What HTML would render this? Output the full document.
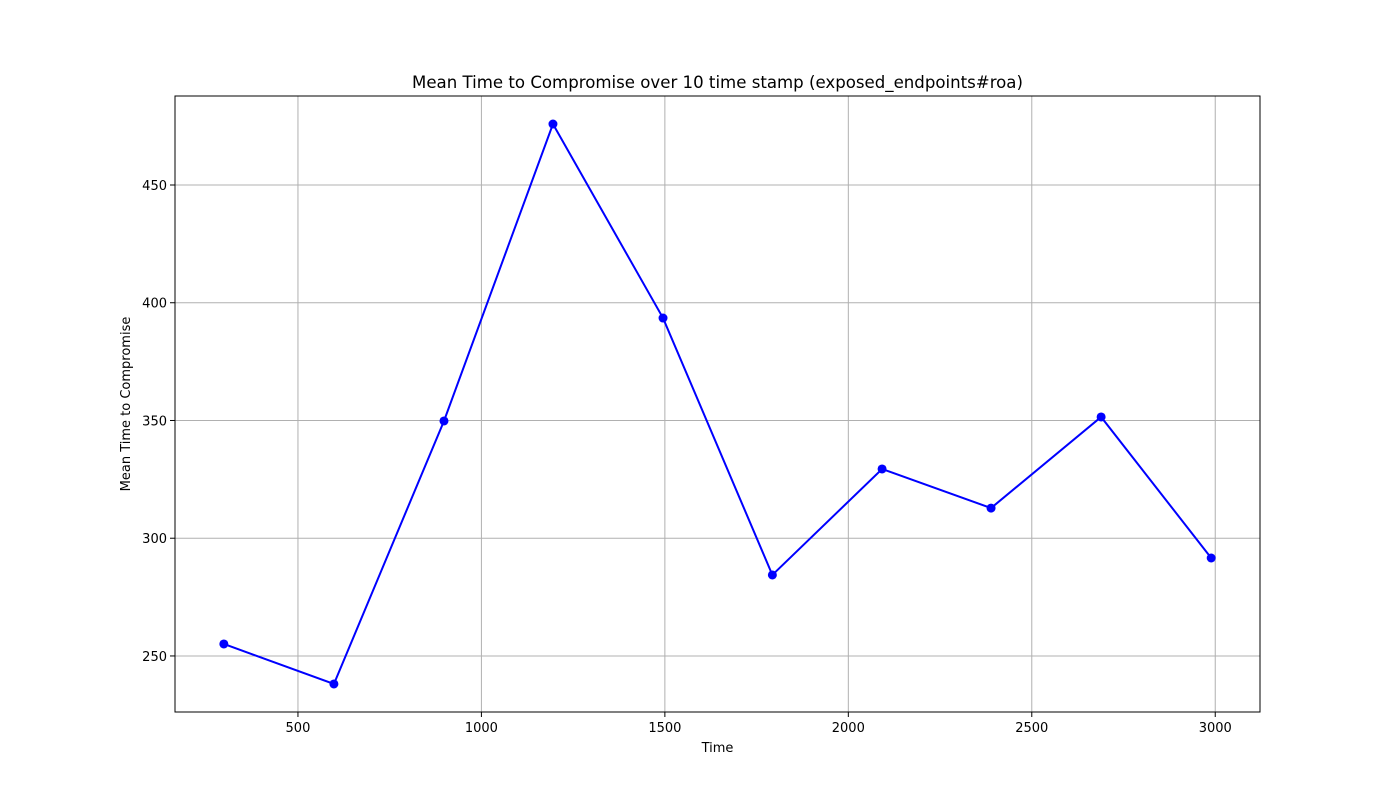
<!DOCTYPE html>
<html><head><meta charset="utf-8">
<style>
html,body{margin:0;padding:0;background:#fff;}
svg text{font-family:"DejaVu Sans","Liberation Sans",sans-serif;}
</style></head>
<body>
<svg id="chart" width="1400" height="800" xmlns="http://www.w3.org/2000/svg">
<rect width="1400" height="800" fill="#fff"/>
<g id="grid"></g>
<g id="ticks"></g>
<g id="series"></g>
<rect x="175" y="96" width="1085" height="616" fill="none" stroke="#000" stroke-width="1"/>
<text x="717.5" y="88" font-size="16.6" text-anchor="middle">Mean Time to Compromise over 10 time stamp (exposed_endpoints#roa)</text>
<text x="717.5" y="752" font-size="13" text-anchor="middle">Time</text>
<text x="130" y="404" font-size="13" text-anchor="middle" transform="rotate(-90 130 404)">Mean Time to Compromise</text>
</svg>
<script>
const times = [298, 598, 898, 1195, 1495, 1793, 2092, 2389, 2689, 2989];
const mttc = [255.1, 238.1, 349.8, 475.9, 393.5, 284.4, 329.4, 312.8, 351.5, 291.6];
const xTicks = [500, 1000, 1500, 2000, 2500, 3000];
const yTicks = [250, 300, 350, 400, 450];

const L=175,R=1260,T=96,B=712;
const xMin=164.9,xMax=3122,yMin=226.2,yMax=487.8;
const sx=v=>L+(v-xMin)/(xMax-xMin)*(R-L);
const sy=v=>B-(v-yMin)/(yMax-yMin)*(B-T);
const NS="http://www.w3.org/2000/svg";
function mk(tag,attrs,parent,txt){const e=document.createElementNS(NS,tag);for(const k in attrs)e.setAttribute(k,attrs[k]);if(txt!==undefined)e.textContent=txt;parent.appendChild(e);return e;}
const grid=document.getElementById('grid'),ticks=document.getElementById('ticks'),series=document.getElementById('series');
xTicks.forEach(v=>{const x=sx(v);
 const g=mk('line',{x1:x,x2:x,y1:T,y2:B,stroke:'#b0b0b0','stroke-width':1},grid);
 
 
 mk('line',{x1:x,x2:x,y1:B,y2:B+5,stroke:'#000'},ticks);
 const t=mk('text',{x:x,y:B+20,'font-size':13,'text-anchor':'middle'},ticks,String(v));
 
 
});
yTicks.forEach(v=>{const y=sy(v);
 const g=mk('line',{x1:L,x2:R,y1:y,y2:y,stroke:'#b0b0b0','stroke-width':1},grid);
 
 
 mk('line',{x1:L-5,x2:L,y1:y,y2:y,stroke:'#000'},ticks);
 const t=mk('text',{x:L-8,y:y+5,'font-size':13,'text-anchor':'end'},ticks,String(v));
 
 
});
const pts=times.map((t,i)=>sx(t)+','+sy(mttc[i])).join(' ');
const pl=mk('polyline',{points:pts,fill:'none',stroke:'#0000ff','stroke-width':2},series);


times.forEach((t,i)=>{
 const c=mk('circle',{cx:sx(t),cy:sy(mttc[i]),r:4.5,fill:'#0000ff'},series);
 
 
});
</script>
</body></html>
